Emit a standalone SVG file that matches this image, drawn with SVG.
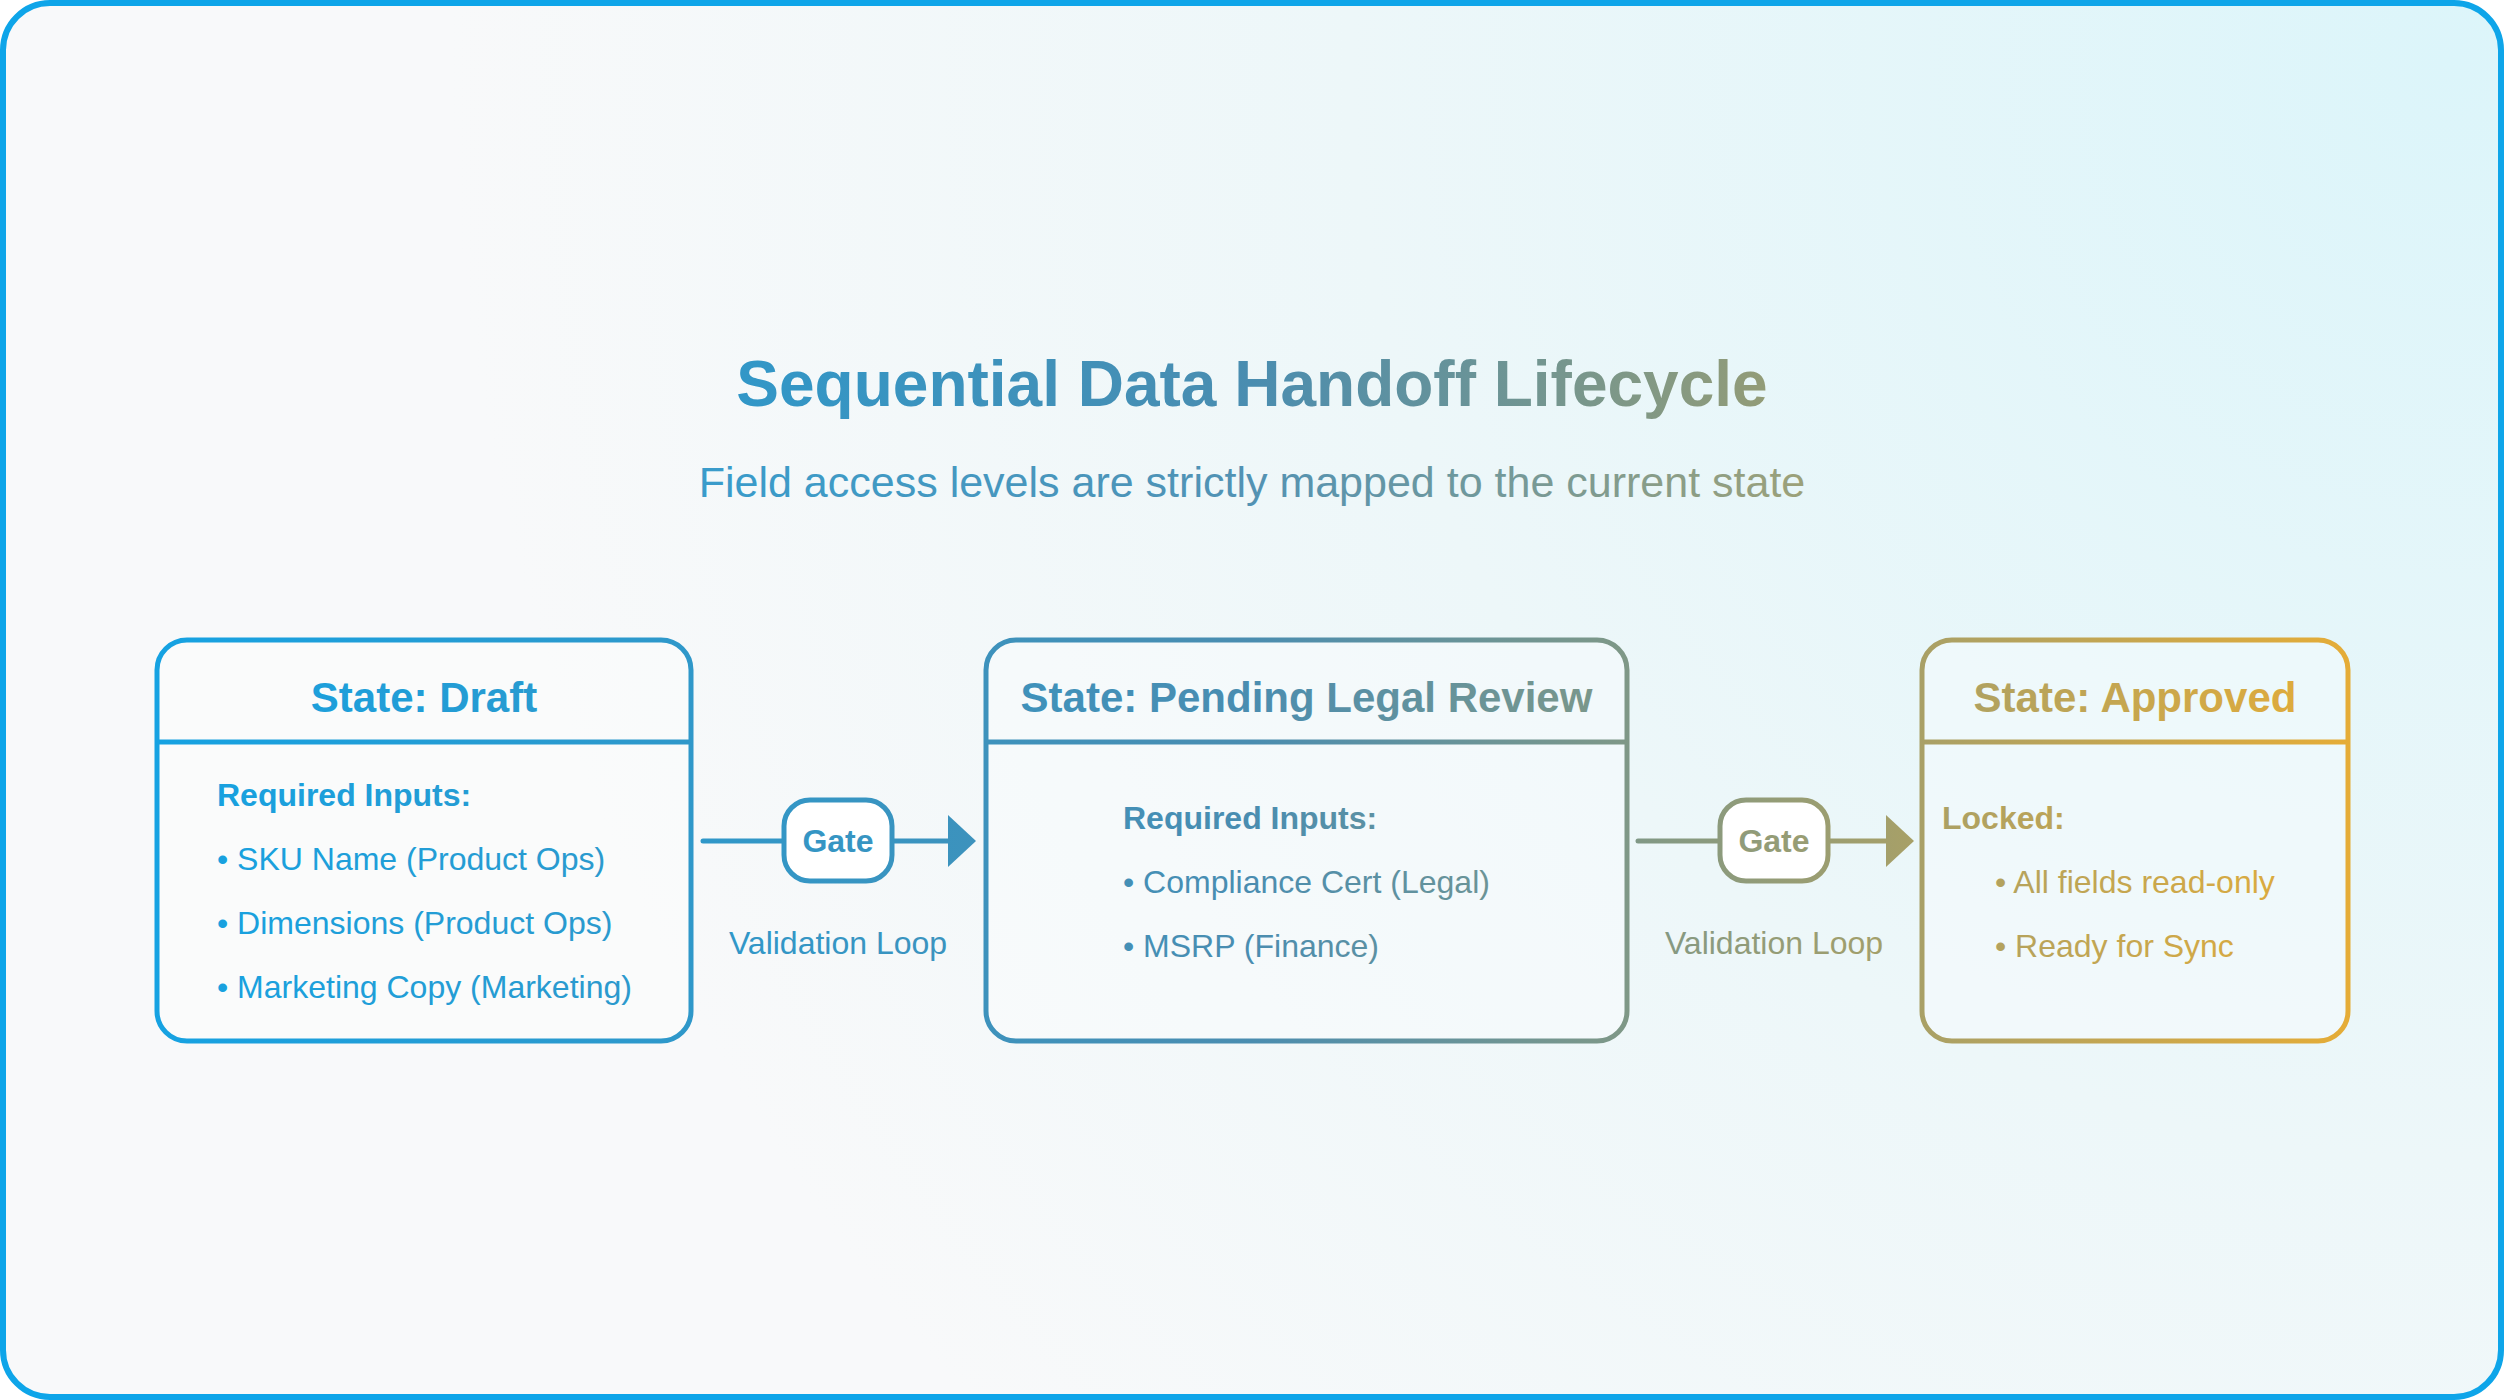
<svg xmlns="http://www.w3.org/2000/svg" width="2504" height="1400" viewBox="0 0 2504 1400">
  <defs>
    <linearGradient id="flow" gradientUnits="userSpaceOnUse" x1="0" y1="0" x2="2504" y2="0">
      <stop offset="0" stop-color="#0ea5e9"/>
      <stop offset="0.5" stop-color="#4a8db0"/>
      <stop offset="1" stop-color="#fbb126"/>
    </linearGradient>
    <radialGradient id="bg" gradientUnits="userSpaceOnUse" cx="2450" cy="60" r="2000">
      <stop offset="0" stop-color="#dcf5fa"/>
      <stop offset="0.55" stop-color="#edf7f9"/>
      <stop offset="1" stop-color="#f8f9fa"/>
    </radialGradient>
    <style>
      .f { font-family: "Liberation Sans", Arial, sans-serif; }
      .title { font-size: 64px; font-weight: bold; fill: url(#flow); }
      .sub { font-size: 43px; fill: url(#flow); opacity: 0.95; }
      .box { fill: #ffffff; fill-opacity: 0.3; stroke: url(#flow); stroke-width: 5; }
      .div { stroke: url(#flow); stroke-width: 5; }
      .head { font-size: 42px; font-weight: bold; fill: url(#flow); text-anchor: middle; }
      .lbl { font-size: 32px; font-weight: bold; fill: url(#flow); }
      .item { font-size: 32px; fill: url(#flow); }
      .gate { fill: #ffffff; stroke: url(#flow); stroke-width: 5; }
      .gtxt { font-size: 32px; font-weight: bold; fill: url(#flow); text-anchor: middle; }
      .vl { font-size: 32px; fill: url(#flow); text-anchor: middle; }
      .line { stroke: url(#flow); stroke-width: 5; stroke-linecap: round; fill: none; }
      .head-arrow { fill: url(#flow); }
    </style>
  </defs>

  <rect x="0" y="0" width="2504" height="1400" fill="#ffffff"/>
  <rect x="3" y="3" width="2498" height="1394" rx="47" fill="url(#bg)" stroke="#0ea5e9" stroke-width="6"/>

  <g id="header" class="f">
    <text class="title" x="1252" y="406" text-anchor="middle">Sequential Data Handoff Lifecycle</text>
    <text class="sub" x="1252" y="497" text-anchor="middle">Field access levels are strictly mapped to the current state</text>
  </g>

  <g id="connectors">
    <line class="line" x1="703" y1="841" x2="784" y2="841"/>
    <line class="line" x1="892" y1="841" x2="950" y2="841"/>
    <polygon class="head-arrow" points="948,815 976,841 948,867"/>
    <line class="line" x1="1638" y1="841" x2="1720" y2="841"/>
    <line class="line" x1="1828" y1="841" x2="1888" y2="841"/>
    <polygon class="head-arrow" points="1886,815 1914,841 1886,867"/>
  </g>

  <g id="gate-1" class="f">
    <rect class="gate" x="784" y="800" width="108" height="81" rx="26"/>
    <text class="gtxt" x="838" y="852">Gate</text>
    <text class="vl" x="838" y="954">Validation Loop</text>
  </g>

  <g id="gate-2" class="f">
    <rect class="gate" x="1720" y="800" width="108" height="81" rx="26"/>
    <text class="gtxt" x="1774" y="852">Gate</text>
    <text class="vl" x="1774" y="954">Validation Loop</text>
  </g>

  <g id="state-draft" class="f">
    <rect class="box" x="157" y="640" width="534" height="401" rx="30"/>
    <line class="div" x1="157" y1="742" x2="691" y2="742"/>
    <text class="head" x="424" y="712">State: Draft</text>
    <text class="lbl" x="217" y="806">Required Inputs:</text>
    <text class="item" x="217" y="870">• SKU Name (Product Ops)</text>
    <text class="item" x="217" y="934">• Dimensions (Product Ops)</text>
    <text class="item" x="217" y="998">• Marketing Copy (Marketing)</text>
  </g>

  <g id="state-pending-legal-review" class="f">
    <rect class="box" x="986" y="640" width="641" height="401" rx="30"/>
    <line class="div" x1="986" y1="742" x2="1627" y2="742"/>
    <text class="head" x="1306.5" y="712">State: Pending Legal Review</text>
    <text class="lbl" x="1123" y="829">Required Inputs:</text>
    <text class="item" x="1123" y="893">• Compliance Cert (Legal)</text>
    <text class="item" x="1123" y="957">• MSRP (Finance)</text>
  </g>

  <g id="state-approved" class="f">
    <rect class="box" x="1922" y="640" width="426" height="401" rx="30"/>
    <line class="div" x1="1922" y1="742" x2="2348" y2="742"/>
    <text class="head" x="2135" y="712">State: Approved</text>
    <text class="lbl" x="1942" y="829">Locked:</text>
    <text class="item" x="1995" y="893">• All fields read-only</text>
    <text class="item" x="1995" y="957">• Ready for Sync</text>
  </g>
</svg>
